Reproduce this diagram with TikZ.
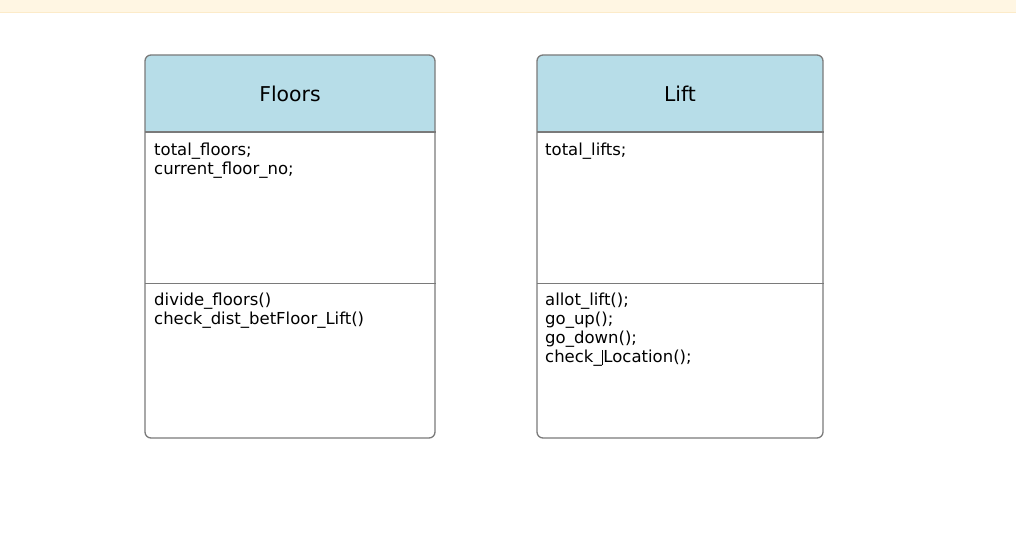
\documentclass[tikz,border=0pt]{standalone}
\usepackage{fontspec}
\setmainfont{DejaVu Sans}
\definecolor{bandfill}{HTML}{FFF6E3}
\definecolor{bandline}{HTML}{FCEBC9}
\definecolor{hdrfill}{HTML}{B7DDE8}
\definecolor{boxline}{HTML}{7A7A7A}
\tikzset{
  classbox/.style={draw=boxline, line width=1.3pt, rounded corners=6pt, inner sep=0pt},
  hdrtitle/.style={font=\fontsize{20.4}{24}\selectfont, inner sep=0pt},
  member/.style={font=\fontsize{16.5}{19}\selectfont, anchor=base west, inner sep=0pt, align=left},
  divider/.style={draw=boxline, line width=1.3pt},
}
\begin{document}
\begin{tikzpicture}[x=1pt,y=-1pt]
\useasboundingbox (0,0) rectangle (1016,543);
\fill[bandfill] (0,0) rectangle (1016,12);
\draw[bandline, line width=1pt] (0,12.5) -- (1016,12.5);
% Floors
\fill[hdrfill] (145,132) [rounded corners=6pt] -- (145,55) -- (435,55) [sharp corners] -- (435,132) -- cycle;
\node[classbox, minimum width=290pt, minimum height=383pt] (floors) at (290,246.5) {};
\coordinate (fh) at (145,132);
\coordinate (fm) at (145,283.5);
\draw[divider] (fh) -- (fh -| floors.east);
\draw[divider] (fm) -- (fm -| floors.east);
\node[hdrtitle] (floorsT) at (290,94) {Floors};
\node[member] (fa1) at (154,155) {total\_floors;};
\node[member] (fa2) at (154,174) {current\_floor\_no;};
\node[member] (fm1) at (154,305) {divide\_floors()};
\node[member] (fm2) at (154,324) {check\_dist\_betFloor\_Lift()};
% Lift
\fill[hdrfill] (537,132) [rounded corners=6pt] -- (537,55) -- (823,55) [sharp corners] -- (823,132) -- cycle;
\node[classbox, minimum width=286pt, minimum height=383pt] (lift) at (680,246.5) {};
\coordinate (lh) at (537,132);
\coordinate (lm) at (537,283.5);
\draw[divider] (lh) -- (lh -| lift.east);
\draw[divider] (lm) -- (lm -| lift.east);
\node[hdrtitle] (liftT) at (680,94) {Lift};
\node[member] (la1) at (545,155) {total\_lifts;};
\node[member] (lm1) at (545,305) {allot\_lift();};
\node[member] (lm2) at (545,324) {go\_up();};
\node[member] (lm3) at (545,343) {go\_down();};
\node[member] (lm4) at (545,362) {check\_\kern0.5pt\rule[-3pt]{1.2pt}{15pt}Location();};
\end{tikzpicture}
\end{document}
